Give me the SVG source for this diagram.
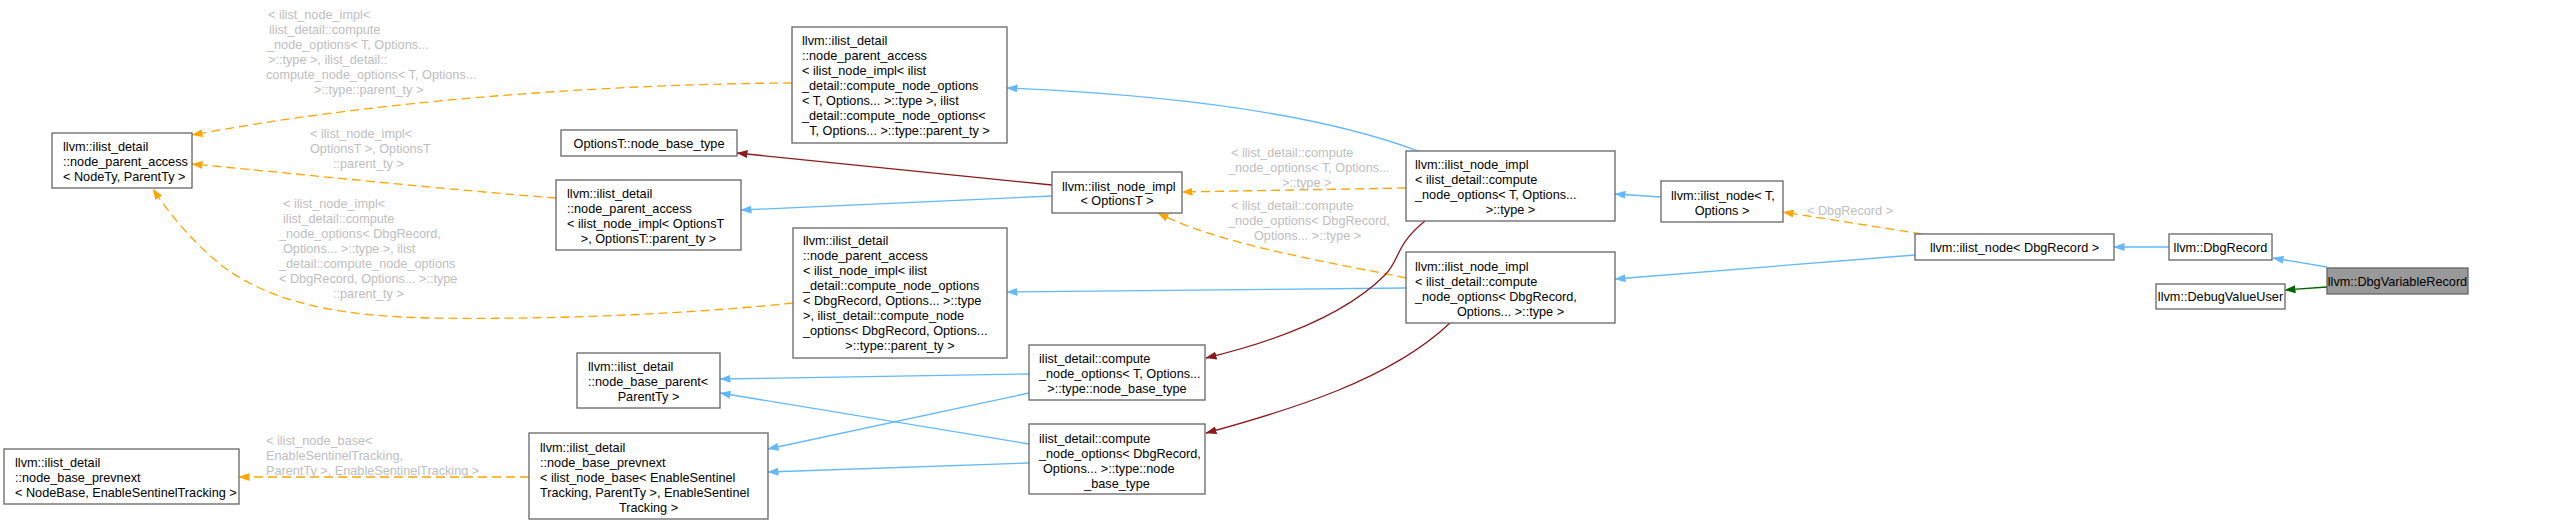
<svg xmlns="http://www.w3.org/2000/svg" width="2564" height="525" viewBox="0 0 2564 525">
<style>
text{font-family:"Liberation Sans",Arial,sans-serif;font-size:12.7px;fill:#000}
.n rect{fill:#fff;stroke:#666;stroke-width:1.3}
.n rect.cur{fill:#999}
.m{text-anchor:middle}
.lbl{fill:#bebebe}
.e{fill:none;stroke-width:1.3}
.or{stroke:#ffa500;stroke-dasharray:9,5}
.bl{stroke:#63b8ff}
.rd{stroke:#8b1a1a}
.gr{stroke:#006400}
</style>
<defs>
<marker id="aor" viewBox="0 0 11 8" refX="10.5" refY="4" markerWidth="11" markerHeight="8" markerUnits="userSpaceOnUse" orient="auto"><path d="M0,0L11,4L0,8z" fill="#ffa500"/></marker>
<marker id="abl" viewBox="0 0 11 8" refX="10.5" refY="4" markerWidth="11" markerHeight="8" markerUnits="userSpaceOnUse" orient="auto"><path d="M0,0L11,4L0,8z" fill="#63b8ff"/></marker>
<marker id="ard" viewBox="0 0 11 8" refX="10.5" refY="4" markerWidth="11" markerHeight="8" markerUnits="userSpaceOnUse" orient="auto"><path d="M0,0L11,4L0,8z" fill="#8b1a1a"/></marker>
<marker id="agr" viewBox="0 0 11 8" refX="10.5" refY="4" markerWidth="11" markerHeight="8" markerUnits="userSpaceOnUse" orient="auto"><path d="M0,0L11,4L0,8z" fill="#006400"/></marker>
</defs>
<rect width="2564" height="525" fill="#fff"/>
<g id="edges">
<path class="e or" d="M792,83 C620,84 390,98 192,135" marker-end="url(#aor)"/>
<path class="e or" d="M556,198 C450,190 300,174 192,164" marker-end="url(#aor)"/>
<path class="e or" d="M793,303 C700,313 560,320 430,318 C330,316 270,300 225,268 C195,245 170,215 153,189" marker-end="url(#aor)"/>
<path class="e or" d="M529,477 L239,477" marker-end="url(#aor)"/>
<path class="e rd" d="M1052,185 L737,153" marker-end="url(#ard)"/>
<path class="e bl" d="M1052,196 L741,210" marker-end="url(#abl)"/>
<path class="e bl" d="M1418,151 C1330,118 1200,96 1007,88" marker-end="url(#abl)"/>
<path class="e or" d="M1406,188 L1182,192" marker-end="url(#aor)"/>
<path class="e or" d="M1406,278 C1330,262 1220,245 1158,213" marker-end="url(#aor)"/>
<path class="e bl" d="M1406,288 L1007,292" marker-end="url(#abl)"/>
<path class="e rd" d="M1425,221 C1395,245 1400,260 1385,275 C1340,320 1260,345 1206,358" marker-end="url(#ard)"/>
<path class="e rd" d="M1450,323 C1390,380 1290,410 1206,433" marker-end="url(#ard)"/>
<path class="e bl" d="M1029,374 L720,379" marker-end="url(#abl)"/>
<path class="e bl" d="M1029,444 L720,393" marker-end="url(#abl)"/>
<path class="e bl" d="M1029,393 L768,449" marker-end="url(#abl)"/>
<path class="e bl" d="M1029,463 L768,472" marker-end="url(#abl)"/>
<path class="e bl" d="M1661,197 L1615,194" marker-end="url(#abl)"/>
<path class="e or" d="M1922,234 L1783,212" marker-end="url(#aor)"/>
<path class="e bl" d="M1915,255 L1615,279" marker-end="url(#abl)"/>
<path class="e bl" d="M2169,247 L2114,247" marker-end="url(#abl)"/>
<path class="e bl" d="M2327,267 L2273,258" marker-end="url(#abl)"/>
<path class="e gr" d="M2327,287 L2285,290" marker-end="url(#agr)"/>
<g id="edge-labels">
<text class="lbl" x="268" y="18.5">&lt; ilist_node_impl&lt;</text>
<text class="lbl" x="269" y="33.5">ilist_detail::compute</text>
<text class="lbl" x="267" y="48.5">_node_options&lt; T, Options...</text>
<text class="lbl" x="268" y="63.5">&gt;::type &gt;, ilist_detail::</text>
<text class="lbl" x="266" y="78.5">compute_node_options&lt; T, Options...</text>
<text class="lbl" x="314" y="93.5">&gt;::type::parent_ty &gt;</text>
<text class="lbl" x="310" y="137.5">&lt; ilist_node_impl&lt;</text>
<text class="lbl" x="310" y="152.5">OptionsT &gt;, OptionsT</text>
<text class="lbl" x="333" y="167.5">::parent_ty &gt;</text>
<text class="lbl" x="283" y="207.5">&lt; ilist_node_impl&lt;</text>
<text class="lbl" x="283" y="222.5">ilist_detail::compute</text>
<text class="lbl" x="279" y="237.5">_node_options&lt; DbgRecord,</text>
<text class="lbl" x="283" y="252.5">Options... &gt;::type &gt;, ilist</text>
<text class="lbl" x="279" y="267.5">_detail::compute_node_options</text>
<text class="lbl" x="279" y="282.5">&lt; DbgRecord, Options... &gt;::type</text>
<text class="lbl" x="333" y="297.5">::parent_ty &gt;</text>
<text class="lbl" x="266" y="444.5">&lt; ilist_node_base&lt;</text>
<text class="lbl" x="266" y="459.5">EnableSentinelTracking,</text>
<text class="lbl" x="266" y="474.5">ParentTy &gt;, EnableSentinelTracking &gt;</text>
<text class="lbl" x="1231" y="156.5">&lt; ilist_detail::compute</text>
<text class="lbl" x="1228" y="171.5">_node_options&lt; T, Options...</text>
<text class="lbl" x="1282" y="186.5">&gt;::type &gt;</text>
<text class="lbl" x="1231" y="209.5">&lt; ilist_detail::compute</text>
<text class="lbl" x="1228" y="224.5">_node_options&lt; DbgRecord,</text>
<text class="lbl" x="1254" y="239.5">Options... &gt;::type &gt;</text>
<text class="lbl" x="1807" y="214.5">&lt; DbgRecord &gt;</text>
</g>
</g>
<g id="n_npa_generic" class="n"><rect x="52" y="133" width="140" height="55"/>
<text x="63" y="150.5">llvm::ilist_detail</text><text x="63" y="165.5">::node_parent_access</text><text x="63" y="180.5">&lt; NodeTy, ParentTy &gt;</text></g>
<g id="n_prevnext_generic" class="n"><rect x="4" y="449" width="235" height="55"/>
<text x="15" y="466.5">llvm::ilist_detail</text><text x="15" y="481.5">::node_base_prevnext</text><text x="15" y="496.5">&lt; NodeBase, EnableSentinelTracking &gt;</text></g>
<g id="n_node_base_type" class="n"><rect x="561" y="130" width="176" height="26"/>
<text class="m" x="649" y="148">OptionsT::node_base_type</text></g>
<g id="n_npa_optionsT" class="n"><rect x="556" y="180" width="185" height="70"/>
<text x="567" y="197.5">llvm::ilist_detail</text><text x="567" y="212.5">::node_parent_access</text><text x="567" y="227.5">&lt; ilist_node_impl&lt; OptionsT</text><text class="m" x="648.5" y="242.5">&gt;, OptionsT::parent_ty &gt;</text></g>
<g id="n_node_base_parent" class="n"><rect x="577" y="353" width="143" height="55"/>
<text x="588" y="370.5">llvm::ilist_detail</text><text x="588" y="385.5">::node_base_parent&lt;</text><text class="m" x="648.5" y="400.5">ParentTy &gt;</text></g>
<g id="n_prevnext_specific" class="n"><rect x="529" y="433" width="239" height="86"/>
<text x="540" y="451.5">llvm::ilist_detail</text><text x="540" y="466.5">::node_base_prevnext</text><text x="540" y="481.5">&lt; ilist_node_base&lt; EnableSentinel</text><text x="540" y="496.5">Tracking, ParentTy &gt;, EnableSentinel</text><text class="m" x="648.5" y="511.5">Tracking &gt;</text></g>
<g id="n_npa_T" class="n"><rect x="792" y="27" width="215" height="116"/>
<text x="802" y="44.5">llvm::ilist_detail</text><text x="802" y="59.5">::node_parent_access</text><text x="802" y="74.5">&lt; ilist_node_impl&lt; ilist</text><text x="802" y="89.5">_detail::compute_node_options</text><text x="802" y="104.5">&lt; T, Options... &gt;::type &gt;, ilist</text><text x="802" y="119.5">_detail::compute_node_options&lt;</text><text class="m" x="899.5" y="134.5">T, Options... &gt;::type::parent_ty &gt;</text></g>
<g id="n_npa_dbg" class="n"><rect x="793" y="228" width="214" height="130"/>
<text x="803" y="244.5">llvm::ilist_detail</text><text x="803" y="259.5">::node_parent_access</text><text x="803" y="274.5">&lt; ilist_node_impl&lt; ilist</text><text x="803" y="289.5">_detail::compute_node_options</text><text x="803" y="304.5">&lt; DbgRecord, Options... &gt;::type</text><text x="803" y="319.5">&gt;, ilist_detail::compute_node</text><text x="803" y="334.5">_options&lt; DbgRecord, Options...</text><text class="m" x="900" y="349.5">&gt;::type::parent_ty &gt;</text></g>
<g id="n_impl_optionsT" class="n"><rect x="1052" y="172" width="130" height="41"/>
<text x="1062" y="190.5">llvm::ilist_node_impl</text><text class="m" x="1117" y="205">&lt; OptionsT &gt;</text></g>
<g id="n_compute_T" class="n"><rect x="1029" y="345" width="176" height="55"/>
<text x="1039" y="362.5">ilist_detail::compute</text><text x="1039" y="377.5">_node_options&lt; T, Options...</text><text class="m" x="1117" y="392.5">&gt;::type::node_base_type</text></g>
<g id="n_compute_dbg" class="n"><rect x="1029" y="424" width="176" height="70"/>
<text x="1039" y="442.5">ilist_detail::compute</text><text x="1039" y="457.5">_node_options&lt; DbgRecord,</text><text x="1043" y="472.5">Options... &gt;::type::node</text><text class="m" x="1117" y="487.5">_base_type</text></g>
<g id="n_impl_T" class="n"><rect x="1406" y="151" width="209" height="70"/>
<text x="1415" y="168.5">llvm::ilist_node_impl</text><text x="1415" y="183.5">&lt; ilist_detail::compute</text><text x="1415" y="198.5">_node_options&lt; T, Options...</text><text class="m" x="1510.5" y="213.5">&gt;::type &gt;</text></g>
<g id="n_impl_dbg" class="n"><rect x="1406" y="252" width="209" height="71"/>
<text x="1415" y="270.5">llvm::ilist_node_impl</text><text x="1415" y="285.5">&lt; ilist_detail::compute</text><text x="1415" y="300.5">_node_options&lt; DbgRecord,</text><text class="m" x="1510.5" y="315.5">Options... &gt;::type &gt;</text></g>
<g id="n_ilist_node_T" class="n"><rect x="1661" y="181" width="122" height="41"/>
<text x="1671" y="199.5">llvm::ilist_node&lt; T,</text><text class="m" x="1722" y="214.5">Options &gt;</text></g>
<g id="n_ilist_node_dbg" class="n"><rect x="1915" y="234" width="199" height="26"/>
<text class="m" x="2014.5" y="252">llvm::ilist_node&lt; DbgRecord &gt;</text></g>
<g id="n_dbgrecord" class="n"><rect x="2169" y="234" width="103" height="26"/>
<text class="m" x="2220.5" y="252">llvm::DbgRecord</text></g>
<g id="n_debugvalueuser" class="n"><rect x="2156" y="284" width="129" height="25"/>
<text class="m" x="2220.5" y="301">llvm::DebugValueUser</text></g>
<g id="n_dbgvariablerecord" class="n"><rect class="cur" x="2327" y="268" width="141" height="26"/>
<text class="m" x="2397.5" y="285.5">llvm::DbgVariableRecord</text></g>
</svg>
